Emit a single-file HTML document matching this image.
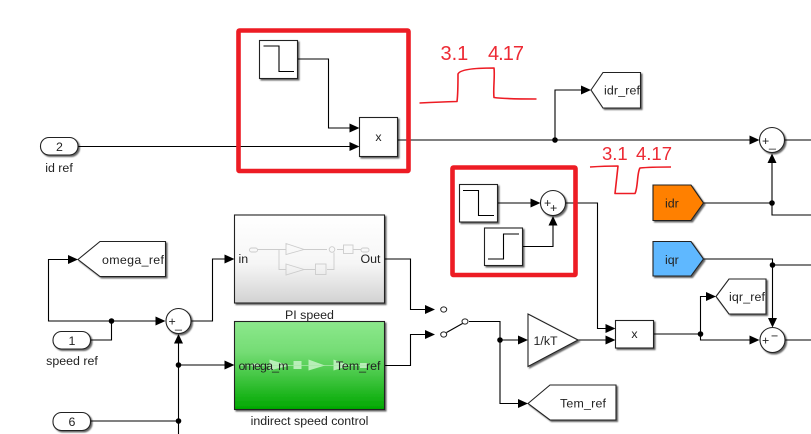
<!DOCTYPE html>
<html><head><meta charset="utf-8">
<style>
html,body{margin:0;padding:0;background:#fff;width:811px;height:434px;overflow:hidden}
svg{display:block}
text{font-family:"Liberation Sans",sans-serif;font-size:12.4px;fill:#222}
.l{fill:none;stroke:#000;stroke-width:1.1}
.b{fill:#fff;stroke:#222;stroke-width:1.1;filter:url(#s)}
.a{fill:#000;stroke:none}
.r{fill:none;stroke:#ed1c24;stroke-width:1.6;stroke-linejoin:round}
.rb{fill:none;stroke:#ed1c24;stroke-width:4.6;stroke-linejoin:round}
.rt{fill:#ed2a34;font-size:20px}
.g{fill:none;stroke:#ccc;stroke-width:.9}
</style></head><body>
<svg width="811" height="434" viewBox="0 0 811 434" xmlns="http://www.w3.org/2000/svg">
<defs>
<filter id="s" x="-20%" y="-20%" width="150%" height="150%"><feDropShadow dx="1.5" dy="1.5" stdDeviation="0.9" flood-color="#000" flood-opacity=".6"/></filter>
<linearGradient id="gr" x1="0" y1="0" x2="0" y2="1"><stop offset="0" stop-color="#fff"/><stop offset=".55" stop-color="#f6f6f6"/><stop offset="1" stop-color="#d2d2d2"/></linearGradient>
<linearGradient id="gn" x1="0" y1="0" x2="0" y2="1"><stop offset="0" stop-color="#8ce88c"/><stop offset=".35" stop-color="#74dc74"/><stop offset="1" stop-color="#00a800"/></linearGradient>
</defs>

<!-- connectors -->
<path class="l" d="M78 146.500H350"/>
<path class="l" d="M297.500 59H328.500V128H350"/>
<path class="l" d="M397.500 140H750"/>
<path class="l" d="M555 140V90H582"/>
<path class="l" d="M784.500 140H811"/>
<path class="l" d="M703 203H772V163"/>
<path class="l" d="M772 203V215H811"/>
<path class="l" d="M497.500 203H531"/>
<path class="l" d="M522.500 246.500H553V225"/>
<path class="l" d="M565.500 203H597.500V328.500H606"/>
<path class="l" d="M703 259H772.500V318"/>
<path class="l" d="M772.500 265H811"/>
<path class="l" d="M653.500 334H700.500V296.500H707"/>
<path class="l" d="M700.500 334V340H750"/>
<path class="l" d="M784.500 340H811"/>
<path class="l" d="M578 340H606"/>
<path class="l" d="M469 321.500H500V403.500H520"/>
<path class="l" d="M500 340H519"/>
<path class="l" d="M111.500 321H48.500V259.500H69"/>
<path class="l" d="M91 340H111.500V321H157"/>
<path class="l" d="M191 321H212.500V259H225"/>
<path class="l" d="M178.500 434V343"/>
<path class="l" d="M178.500 365H225"/>
<path class="l" d="M91 421H178.500"/>
<path class="l" d="M384.500 259H410.500V309.500H426"/>
<path class="l" d="M384.500 365.500H410.500V334.500H426"/>
<path class="l" d="M446.500 332.500L462.500 323.500"/>

<!-- arrowheads -->
<g class="a">
<path d="M359.500 128l-10-4.500v9z"/>
<path d="M359.500 146.500l-10-4.500v9z"/>
<path d="M591 90l-10-4.500v9z"/>
<path d="M759.500 140l-10-4.500v9z"/>
<path d="M772 153.500l-4.500 9.500h9z"/>
<path d="M540.500 203l-10-4.500v9z"/>
<path d="M553 216l-4.500 9.500h9z"/>
<path d="M615.500 328.500l-10-4.500v9z"/>
<path d="M615.500 340l-10-4.500v9z"/>
<path d="M528 340l-10-4.500v9z"/>
<path d="M528 403.500l-10-4.500v9z"/>
<path d="M716 296.500l-10-4.500v9z"/>
<path d="M759.500 340l-10-4.500v9z"/>
<path d="M772.500 327.500l-4.500-9.500h9z"/>
<path d="M78 259.500l-10-4.500v9z"/>
<path d="M165.500 321l-10-4.500v9z"/>
<path d="M178.500 334l-4.500 9.500h9z"/>
<path d="M234.500 259l-10-4.500v9z"/>
<path d="M234.500 365l-10-4.500v9z"/>
<path d="M435 309.500l-10-4.500v9z"/>
<path d="M435 334.500l-10-4.500v9z"/>
</g>

<!-- junctions -->
<g fill="#000">
<circle cx="555" cy="140" r="2.800"/>
<circle cx="772" cy="203" r="2.800"/>
<circle cx="772.500" cy="265" r="2.800"/>
<circle cx="700.500" cy="334" r="2.800"/>
<circle cx="500" cy="340" r="2.800"/>
<circle cx="111.500" cy="321" r="2.800"/>
<circle cx="178.500" cy="365" r="2.800"/>
<circle cx="178.500" cy="421" r="2.800"/>
</g>

<!-- step blocks -->
<rect class="b" x="259.500" y="40.500" width="38" height="38"/>
<path class="l" d="M263.500 46H279V71.500H294"/>
<rect class="b" x="459.500" y="184.500" width="38" height="37.500"/>
<path class="l" d="M463 190.500H478.500V215.500H494"/>
<rect class="b" x="484.500" y="228" width="38" height="37.500"/>
<path class="l" d="M488 259H503.500V234H519"/>

<!-- product blocks -->
<rect class="b" x="359.500" y="117.500" width="38" height="39"/>
<text x="378.500" y="141" text-anchor="middle">x</text>
<rect class="b" x="615.500" y="320.500" width="38" height="27.500"/>
<text x="634.500" y="338" text-anchor="middle">x</text>

<!-- sums -->
<g>
<circle class="b" cx="772" cy="140" r="12.500"/>
<text x="762" y="145">+</text><text x="769" y="147">_</text>
<circle class="b" cx="553" cy="203" r="12.500"/>
<text x="544" y="207">+</text><text x="550" y="212">+</text>
<circle class="b" cx="772.500" cy="340" r="12.500"/>
<text x="762" y="344.500">+</text><text x="771" y="340">&#8722;</text>
<circle class="b" cx="178.500" cy="321" r="12.500"/>
<text x="168.500" y="325.500">+</text><text x="175" y="328">_</text>
</g>

<!-- goto / from -->
<path class="b" d="M591 90L603 72.500H640.500V108H603Z"/>
<text x="604" y="94.500" textLength="36">idr_ref</text>
<path d="M653 185H691L703.500 203L691 220.500H653Z" fill="#ff8000" stroke="#222" stroke-width="1.100" style="filter:url(#s)"/>
<text x="665" y="207.500">idr</text>
<path d="M653 241.500H691L703.500 259L691 276H653Z" fill="#5fb8ff" stroke="#222" stroke-width="1.100" style="filter:url(#s)"/>
<text x="665" y="264">iqr</text>
<path class="b" d="M716 296.500L729 279H766V314H729Z"/>
<text x="729" y="301" textLength="36">iqr_ref</text>
<path class="b" d="M78 259.500L100 241.500H165.500V276.500H100Z"/>
<text x="102" y="264" textLength="62">omega_ref</text>
<path class="b" d="M528 403.500L550 385H616V420H550Z"/>
<text x="560" y="407.500" textLength="46">Tem_ref</text>
<path class="b" d="M528 314L578 340L528 366.500Z"/>
<text x="533.500" y="345">1/kT</text>

<!-- inports -->
<rect class="b" x="40.500" y="137.500" width="37.500" height="17.500" rx="8.500"/>
<text x="59.500" y="151" text-anchor="middle">2</text>
<text x="59" y="172" text-anchor="middle">id ref</text>
<rect class="b" x="53" y="331.500" width="37.500" height="17.500" rx="8.500"/>
<text x="72" y="345" text-anchor="middle">1</text>
<text x="72" y="365" text-anchor="middle">speed ref</text>
<rect class="b" x="53" y="412.500" width="37.500" height="18" rx="8.500"/>
<text x="72" y="426" text-anchor="middle">6</text>

<!-- PI speed -->
<rect x="234.500" y="215" width="150" height="88" fill="url(#gr)" stroke="#222" stroke-width="1.100" style="filter:url(#s)"/>
<g class="g">
<rect x="249.500" y="248" width="8" height="4" rx="2"/>
<path d="M257.500 249.500H286M279 249.500V269.500H286M286 243.500L304 249.500L286 254.500ZM286 264L304 269.500L286 275ZM304 249.500H327M304 269.500H315.500M327 269.500H334V252.500M337 249.500H343.500M353 249.500H361"/>
<circle cx="332" cy="249.500" r="2.800"/>
<rect x="315.500" y="264" width="10.500" height="10.500"/>
<rect x="343.500" y="245" width="9.500" height="8.500"/>
<rect x="361" y="248" width="8" height="4" rx="2"/>
</g>
<text x="238.500" y="263">in</text>
<text x="380.500" y="263" text-anchor="end">Out</text>
<text x="309.500" y="319" text-anchor="middle">PI speed</text>

<!-- indirect speed control -->
<rect x="234.500" y="321.500" width="150" height="88" fill="url(#gn)" stroke="#222" stroke-width="1.100" style="filter:url(#s)"/>
<g fill="#b8eeb8">
<rect x="252" y="363.500" width="7" height="3"/>
<path d="M269.500 359.500L290 365.500L269.500 370.500Z"/>
<rect x="293.500" y="361" width="8" height="8"/>
<path d="M308.500 359.500L325 365.500L308.500 370.500Z"/>
<path d="M333.500 359.500L350 365.500L333.500 370.500Z"/>
<rect x="360" y="363" width="8" height="5"/>
</g>
<path d="M240 365.500H368" stroke="#a8e8a8" stroke-width=".7" fill="none"/>
<text x="238.500" y="370" textLength="50">omega_m</text>
<text x="380.500" y="370" text-anchor="end">Tem_ref</text>
<text x="309.500" y="425" text-anchor="middle">indirect speed control</text>

<!-- switch circles -->
<g fill="#fff" stroke="#222" stroke-width="1">
<ellipse cx="443.700" cy="309.500" rx="3" ry="2.600"/>
<ellipse cx="443.700" cy="334.500" rx="3" ry="2.600"/>
<ellipse cx="465" cy="321.500" rx="3" ry="2.600"/>
</g>

<!-- red annotations -->
<rect class="rb" x="238.500" y="30.500" width="170" height="140.500" rx="1"/>
<rect class="rb" x="452.500" y="167.500" width="123" height="107.500" rx="1"/>
<path class="r" d="M419.500 103Q440 102 457 101.500C458 94 458 82 458 74C460 69 478 68 494 68C495 76 493 90 494 97.500C505 99 520 99 536.500 99"/>
<path class="r" d="M590 167Q605 166 618 166C617 175 616 185 615 193.500H635C638 188 637 172 640 168C650 167 660 167 671 167"/>
<text class="rt" x="440.500" y="60">3.1</text>
<text class="rt" x="488" y="60" textLength="36">4.17</text>
<text class="rt" x="602" y="160" style="font-size:18.500px">3.1</text>
<text class="rt" x="636" y="160" style="font-size:18.500px">4.17</text>
</svg>
</body></html>
